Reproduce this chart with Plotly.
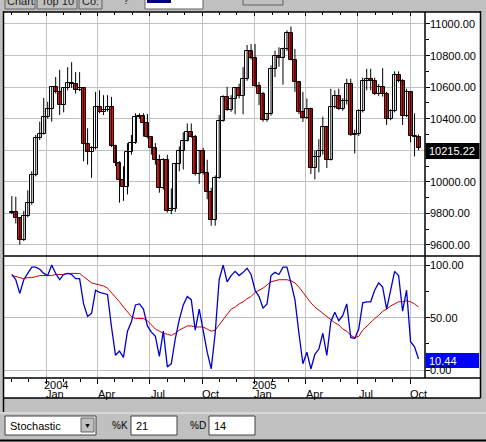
import plotly.graph_objects as go
import pandas as pd

# weekly bars, first bar is the week starting 2003-11-02
week_start = "2003-11-02"

opens = [9805, 9810, 9769, 9629, 9782, 9863, 10042, 10278, 10305, 10410,
         10459, 10601, 10568, 10488, 10593, 10628, 10619, 10584, 10596, 10240,
         10187, 10213, 10471, 10442, 10452, 10473, 10226, 10117, 10013, 9967,
         10188, 10243, 10410, 10416, 10372, 10283, 10213, 10140, 9962, 10140,
         9815, 9825, 10110, 10195, 10260, 10313, 10284, 10047, 10193, 10055,
         9933, 9758, 10027, 10388, 10539, 10457, 10522, 10592, 10543, 10650,
         10827, 10783, 10604, 10558, 10393, 10427, 10716, 10796, 10785, 10842,
         10941, 10774, 10630, 10443, 10404, 10461, 10088, 10158, 10193, 10345,
         10140, 10472, 10543, 10461, 10513, 10623, 10298, 10303, 10449, 10641,
         10651, 10641, 10558, 10600, 10559, 10397, 10447, 10679, 10642, 10420,
         10569, 10292, 10287]
highs = [9910, 9905, 9775, 9816, 9946, 10067, 10297, 10381, 10532, 10507,
         10605, 10664, 10710, 10600, 10727, 10758, 10695, 10695, 10600, 10339,
         10225, 10570, 10580, 10549, 10549, 10538, 10235, 10130, 10098, 10245,
         10297, 10434, 10434, 10434, 10430, 10290, 10245, 10172, 10150, 10172,
         9958, 10120, 10224, 10314, 10370, 10370, 10297, 10200, 10214, 10140,
         9962, 10040, 10423, 10548, 10601, 10549, 10600, 10622, 10727, 10867,
         10873, 10873, 10632, 10570, 10430, 10737, 10831, 10852, 10850, 10960,
         10984, 10842, 10640, 10570, 10528, 10470, 10200, 10270, 10413, 10355,
         10590, 10580, 10590, 10530, 10653, 10653, 10330, 10460, 10660, 10716,
         10716, 10660, 10620, 10720, 10570, 10460, 10700, 10700, 10650, 10590,
         10575, 10434, 10300]
lows = [9795, 9736, 9602, 9625, 9775, 9855, 10035, 10265, 10300, 10400,
        10381, 10560, 10423, 10440, 10580, 10595, 10559, 10575, 10130, 10109,
        10025, 10205, 10435, 10423, 10445, 10220, 10100, 9868, 9879, 9920,
        10172, 10240, 10400, 10287, 10275, 10172, 10109, 9931, 9950, 9805,
        9795, 9810, 10067, 10078, 10255, 10280, 10040, 9987, 10046, 9889,
        9722, 9722, 10020, 10381, 10450, 10444, 10428, 10528, 10428, 10640,
        10775, 10600, 10486, 10381, 10381, 10420, 10664, 10730, 10616, 10830,
        10770, 10570, 10430, 10380, 10398, 10050, 10015, 10060, 10172, 10088,
        10135, 10465, 10455, 10450, 10490, 10290, 10180, 10290, 10440, 10580,
        10580, 10550, 10545, 10540, 10360, 10390, 10440, 10630, 10360, 10410,
        10250, 10161, 10200]
closes = [9810, 9769, 9629, 9782, 9863, 10042, 10278, 10305, 10410, 10459,
          10601, 10568, 10488, 10593, 10628, 10619, 10584, 10596, 10240, 10187,
          10213, 10471, 10442, 10452, 10473, 10226, 10117, 10013, 9967, 10188,
          10243, 10410, 10416, 10372, 10283, 10213, 10140, 9962, 10140, 9815,
          9825, 10110, 10195, 10260, 10313, 10284, 10047, 10193, 10055, 9933,
          9758, 10027, 10388, 10539, 10457, 10522, 10592, 10543, 10650, 10827,
          10783, 10604, 10558, 10393, 10427, 10716, 10796, 10785, 10842, 10941,
          10774, 10630, 10443, 10404, 10461, 10088, 10158, 10193, 10345, 10140,
          10472, 10543, 10461, 10513, 10623, 10298, 10303, 10449, 10641, 10651,
          10641, 10558, 10600, 10559, 10397, 10447, 10679, 10642, 10420, 10569,
          10292, 10287, 10215.22]

# stochastic %K (blue) and %D (red)
pct_k = [91, 86, 73, 86, 92, 98, 98, 96, 92, 90,
         100, 92, 86, 91, 92, 91, 87, 87, 63, 51,
         54, 76, 74, 73, 72, 41, 14, 18, 12, 37,
         46, 62, 63, 58, 42, 36, 32, 13, 37, 3,
         6, 30, 48, 62, 70, 67, 38, 58, 38, 17,
         1, 35, 86, 100, 84, 90, 94, 90, 93, 97,
         91, 76, 70, 59, 63, 90, 93, 91, 98, 98,
         83, 67, 35, 6, 17, 1, 15, 20, 35, 14,
         46, 55, 47, 52, 63, 31, 30, 39, 64, 65,
         65, 76, 83, 79, 58, 76, 94, 90, 56, 76,
         27, 22, 10.44]
pct_d = [90, 89, 88, 87, 88, 88, 89, 90, 90, 90,
         90, 91, 91, 91, 92, 92, 92, 92, 89, 86,
         83, 82, 81, 80, 78, 74, 70, 65, 60, 55,
         51, 49, 49, 49, 47, 43, 39, 37, 35, 34,
         33, 35, 38, 40, 42, 42, 41, 41, 41, 39,
         37, 38, 43, 49, 54, 58, 60, 63, 65, 68,
         70, 74, 76, 78, 81, 84, 85, 86, 86, 86,
         85, 83, 79, 74, 68, 64, 60, 57, 54, 51,
         48, 45, 43, 39, 37, 33, 31, 32, 38, 42,
         45, 49, 52, 56, 58, 61, 63, 65, 65, 66,
         65, 63, 60]

price_ticks = [9600, 9800, 10000, 10200, 10400, 10600, 10800, 11000]
stoch_ticks = [0, 50, 100]
quarter_starts = ["2004-01-01", "2004-04-01", "2004-07-01", "2004-10-01",
                  "2005-01-01", "2005-04-01", "2005-07-01", "2005-10-01"]
month_labels = ["Jan", "Apr", "Jul", "Oct", "Jan", "Apr", "Jul", "Oct"]
month_label_dates = ["2004-01-16", "2004-04-16", "2004-07-16", "2004-10-16",
                     "2005-01-16", "2005-04-16", "2005-07-16", "2005-10-16"]
year_labels = ["2004", "2005"]
year_label_dates = ["2004-01-18", "2005-01-18"]

dates = pd.date_range(week_start, periods=len(closes), freq="7D")

W, H = 486, 442
L, R, T, B = 4, 425, 12, 378


def px(x):
    return (x - L) / (R - L)


def py(y):
    return (B - y) / (B - T)


FONT = "Liberation Sans, Arial, sans-serif"
GRAY = "#c0c0c0"
RED = "#e01010"

fig = go.Figure()

# wicks
wick_x, wick_y = [], []
for d, lo, hi in zip(dates, lows, highs):
    wick_x += [d, d, None]
    wick_y += [lo, hi, None]
fig.add_trace(go.Scatter(
    x=wick_x, y=wick_y, mode="lines",
    line=dict(color="black", width=1),
    xaxis="x", yaxis="y", showlegend=False, hoverinfo="skip"
))

# candle bodies
body_base = [min(o, c) for o, c in zip(opens, closes)]
body_size = [max(abs(c - o), 3) for o, c in zip(opens, closes)]
body_color = ["white" if c >= o else RED for o, c in zip(opens, closes)]
fig.add_trace(go.Bar(
    x=dates, y=body_size, base=body_base,
    width=7 * 24 * 3600 * 1000,
    marker=dict(color=body_color, line=dict(color="black", width=1)),
    xaxis="x", yaxis="y", showlegend=False
))

fig.add_trace(go.Scatter(
    x=dates, y=pct_d, mode="lines",
    line=dict(color="#d00000", width=1),
    xaxis="x2", yaxis="y2", showlegend=False
))
fig.add_trace(go.Scatter(
    x=dates, y=pct_k, mode="lines",
    line=dict(color="#0000c8", width=1.3),
    xaxis="x2", yaxis="y2", showlegend=False
))

xrange = ["2003-10-19 06:30", "2005-10-27 08:00"]

shapes = []
# white chart area behind the plot
shapes.append(dict(type="rect", xref="paper", yref="paper", layer="below",
                   x0=px(4), x1=px(480), y0=py(398), y1=py(12),
                   fillcolor="white", line=dict(width=0)))
# frame lines
for y in [12, 256, 378, 398]:
    shapes.append(dict(type="line", xref="paper", yref="paper",
                       x0=px(3), x1=px(480.5), y0=py(y), y1=py(y),
                       line=dict(color="black", width=1.5)))
for x, y0, y1 in [(3.5, 11, 412), (425, 12, 378), (480.5, 11, 398)]:
    shapes.append(dict(type="line", xref="paper", yref="paper",
                       x0=px(x), x1=px(x), y0=py(y0), y1=py(y1),
                       line=dict(color="black", width=1.5)))
# last value boxes
shapes.append(dict(type="rect", xref="paper", yref="paper",
                   x0=px(425.5), x1=px(479.5), y0=py(159), y1=py(143),
                   fillcolor="black", line=dict(width=0)))
shapes.append(dict(type="rect", xref="paper", yref="paper",
                   x0=px(425.5), x1=px(479), y0=py(368), y1=py(353),
                   fillcolor="#0000ff", line=dict(width=0)))

# bottom control strip
shapes.append(dict(type="line", xref="paper", yref="paper",
                   x0=px(0), x1=px(486), y0=py(413), y1=py(413),
                   line=dict(color="#f0f0f0", width=1)))
shapes.append(dict(type="line", xref="paper", yref="paper",
                   x0=px(0), x1=px(486), y0=py(440.5), y1=py(440.5),
                   line=dict(color="black", width=2)))
for x0, x1 in [(5, 96), (131, 177), (209, 255)]:
    shapes.append(dict(type="rect", xref="paper", yref="paper",
                       x0=px(x0), x1=px(x1), y0=py(435), y1=py(416),
                       fillcolor="white", line=dict(color="#404040", width=1)))
shapes.append(dict(type="rect", xref="paper", yref="paper",
                   x0=px(81), x1=px(94), y0=py(432), y1=py(418),
                   fillcolor=GRAY, line=dict(color="#606060", width=1)))

# top toolbar (cut off by the window edge)
for x0, x1 in [(5, 35), (37, 77), (79, 102)]:
    shapes.append(dict(type="rect", xref="paper", yref="paper",
                       x0=px(x0), x1=px(x1), y0=py(9), y1=py(-4),
                       fillcolor=GRAY, line=dict(color="#606060", width=1)))
shapes.append(dict(type="rect", xref="paper", yref="paper",
                   x0=px(145), x1=px(203), y0=py(9), y1=py(-4),
                   fillcolor="white", line=dict(color="#606060", width=1)))
shapes.append(dict(type="rect", xref="paper", yref="paper",
                   x0=px(147), x1=px(171), y0=py(3), y1=py(-2),
                   fillcolor="#000080", line=dict(width=0)))
shapes.append(dict(type="rect", xref="paper", yref="paper",
                   x0=px(243), x1=px(283), y0=py(5), y1=py(-4),
                   fillcolor=GRAY, line=dict(color="#606060", width=1)))

annotations = []


def label(text, x, y, size=11, color="black", xanchor="center"):
    annotations.append(dict(text=text, xref="paper", yref="paper",
                            x=px(x), y=py(y), xanchor=xanchor, yanchor="middle",
                            showarrow=False,
                            font=dict(family=FONT, size=size, color=color)))


# axis labels on the right
for v in price_ticks:
    annotations.append(dict(text=f"{v:.2f}", xref="paper", yref="y",
                            x=px(428), y=v, xanchor="left", yanchor="middle",
                            showarrow=False,
                            font=dict(family=FONT, size=11, color="black")))
for v in stoch_ticks:
    annotations.append(dict(text=f"{v:.2f}", xref="paper", yref="y2",
                            x=px(428), y=v, xanchor="left", yanchor="middle",
                            showarrow=False,
                            font=dict(family=FONT, size=11, color="black")))

for d, t in zip(month_label_dates, month_labels):
    annotations.append(dict(text=t, xref="x2", yref="paper", x=d, y=py(394),
                            yanchor="middle", showarrow=False,
                            font=dict(family=FONT, size=11, color="black")))
for d, t in zip(year_label_dates, year_labels):
    annotations.append(dict(text=t, xref="x2", yref="paper", x=d, y=py(384.5),
                            yanchor="middle", showarrow=False,
                            font=dict(family=FONT, size=11, color="black")))

label("Stochastic", 8, 425.5, xanchor="left")
label("\u25bc", 87.5, 425.5, size=7)
label("%K", 110, 425.5, size=10, xanchor="left")
label("21", 134, 425.5, xanchor="left")
label("%D", 188, 425.5, size=10, xanchor="left")
label("14", 212, 425.5, xanchor="left")

label("Chart", 20, 1, color="#202020")
label("Top 10", 57, 1, color="#202020")
label("Co:", 90, 1, color="#202020")
label("?", 126, 0, color="#202020")

fig.update_layout(
    width=W, height=H,
    margin=dict(l=L, r=W - R, t=T, b=H - B),
    paper_bgcolor=GRAY,
    plot_bgcolor="white",
    font=dict(family=FONT, size=11, color="black"),
    shapes=shapes,
    annotations=annotations,
    bargap=0,
    xaxis=dict(
        domain=[0, 1], anchor="y", range=xrange, type="date",
        tickvals=quarter_starts, showticklabels=False,
        showgrid=True, gridcolor=GRAY, gridwidth=1,
        side="top", ticks="inside", ticklen=4, tickcolor="black",
        minor=dict(dtick="M1", ticks="inside", ticklen=3, tickcolor="black",
                   showgrid=False),
        showline=False, zeroline=False, fixedrange=True
    ),
    yaxis=dict(
        domain=[py(256), 1], anchor="x", range=[9530, 11076],
        side="right", tickvals=price_ticks, showticklabels=False,
        showgrid=True, gridcolor=GRAY, gridwidth=1,
        ticks="outside", ticklen=4, tickcolor="black",
        minor=dict(dtick=100, ticks="outside", ticklen=3, tickcolor="black",
                   showgrid=False),
        showline=False, zeroline=False, fixedrange=True
    ),
    xaxis2=dict(
        domain=[0, 1], anchor="y2", range=xrange, type="date",
        matches="x",
        tickvals=quarter_starts, showticklabels=False,
        showgrid=True, gridcolor=GRAY, gridwidth=1,
        ticks="outside", ticklen=5, tickcolor="black",
        minor=dict(dtick="M1", ticks="outside", ticklen=3, tickcolor="black",
                   showgrid=False),
        showline=False, zeroline=False, fixedrange=True
    ),
    yaxis2=dict(
        domain=[0, py(256)], anchor="x2", range=[-7.6, 108.6],
        side="right", tickvals=stoch_ticks, showticklabels=False,
        showgrid=True, gridcolor=GRAY, gridwidth=1,
        ticks="outside", ticklen=4, tickcolor="black",
        minor=dict(dtick=25, ticks="outside", ticklen=3, tickcolor="black",
                   showgrid=False),
        showline=False, zeroline=False, fixedrange=True
    ),
)

# last values, drawn after the axis labels so they sit on top
fig.add_annotation(text=f"{closes[-1]:.2f}", xref="paper", yref="paper",
                   x=px(427), y=py(151), xanchor="left", yanchor="middle",
                   showarrow=False,
                   font=dict(family=FONT, size=11, color="white"))
fig.add_annotation(text=f"{pct_k[-1]:.2f}", xref="paper", yref="paper",
                   x=px(427), y=py(361), xanchor="left", yanchor="middle",
                   showarrow=False,
                   font=dict(family=FONT, size=11, color="white"))

# the page body has a default margin; remove it so the chart fills the window
fig.write_html("out.html", config={"displayModeBar": False},
               post_script="document.body.style.margin='0';")
